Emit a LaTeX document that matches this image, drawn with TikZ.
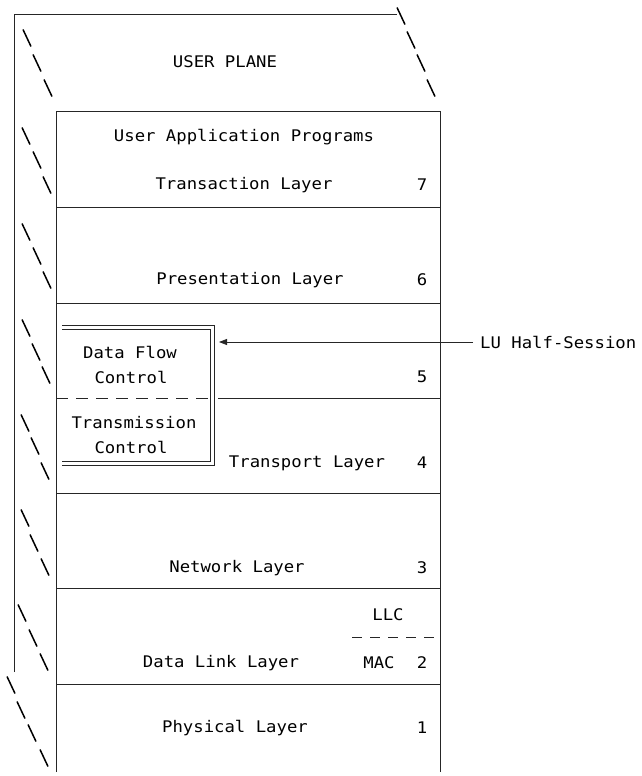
\documentclass[tikz,border=0pt]{standalone}
\usepackage{fontspec}
\newfontfamily\twfont[FakeStretch=1.08]{DejaVu Sans Mono}
\usetikzlibrary{arrows.meta}
\begin{document}
\begin{tikzpicture}[x=1pt,y=-1pt,
  frame/.style={draw=black!85,line width=0.8pt},
  sepline/.style={draw=black!85,line width=0.8pt,dash pattern=on 12pt off 8pt},
  bsl/.style={draw=black,line width=1.5pt},
  txt/.style={inner sep=0pt,font=\twfont\fontsize{16}{19}\selectfont},
  arr/.style={draw=black!85,line width=0.8pt,-{Triangle[length=8pt,width=6pt]}}]
\useasboundingbox (0,0) rectangle (642,776);

% outer slab outline
\coordinate (otl) at (14,14);
\coordinate (otr) at (397,14);
\coordinate (obl) at (14,672);
\draw[frame] (obl) -- (otl) -- (otr);

% layer stack
\coordinate (itl) at (56,111);
\coordinate (itr) at (440,111);
\coordinate (ibl) at (56,772);
\coordinate (ibr) at (440,772);
\draw[frame] (ibl) -- (itl) -- (itr) -- (ibr);
\foreach \y in {207,303,493,588,684}
  \draw[frame] (56,\y) -- (440,\y);
\draw[frame] (218,398) -- (440,398);
\draw[sepline] (56,398) -- (210,398);
\draw[draw=black!85,line width=0.8pt,dash pattern=on 10pt off 8pt] (352,637) -- (440,637);

% session box (double rule)
\draw[frame] (62,325) -| (214,465) -- (62,465);
\draw[frame] (62,329) -| (210,461) -- (62,461);

% depth edges drawn as typed backslashes
\foreach \cx/\cy in {27/38,37/63,48/88,
                     401/16,411/40,421/63,431/88,
                     26/136,37/160,47/185,
                     26/232,37/256,47/280,
                     26/328,36/352,46/375,
                     25/423,35/446,45/471,
                     25/518,34/543,45/567,
                     22/613,33/638,44/662,
                     11/685,21/710,32/733,44/758}
  \draw[bsl] (\cx-4,\cy-8.5) -- (\cx+4,\cy+8.5);

% labels
\node[txt] (plane) at (225,62) {USER PLANE};
\node[txt] (uap) at (244,137) {User Application Programs};
\node[txt] (l7) at (244,185) {Transaction Layer};
\node[txt] (n7) at (422,185) {7};
\node[txt] (l6) at (250,280) {Presentation Layer};
\node[txt] (n6) at (422,280) {6};
\node[txt] (dfc1) at (130,352) {Data Flow};
\node[txt] (dfc2) at (131,377) {Control};
\node[txt] (n5) at (422,377) {5};
\node[txt] (tc1) at (134,423) {Transmission};
\node[txt] (tc2) at (131,447) {Control};
\node[txt] (l4) at (307,463) {Transport Layer};
\node[txt] (n4) at (422,463) {4};
\node[txt] (l3) at (237,568) {Network Layer};
\node[txt] (n3) at (422,568) {3};
\node[txt] (llc) at (388,615) {LLC};
\node[txt] (l2) at (221,663) {Data Link Layer};
\node[txt] (mac) at (379,663) {MAC};
\node[txt] (n2) at (422,663) {2};
\node[txt] (l1) at (235,728) {Physical Layer};
\node[txt] (n1) at (422,728) {1};

% half-session pointer
\node[txt,anchor=west] (lu) at (480,342) {LU Half-Session};
\coordinate (tip) at (219,342);
\draw[arr] ([xshift=-7pt]lu.west) -- (tip);
\end{tikzpicture}
\end{document}
